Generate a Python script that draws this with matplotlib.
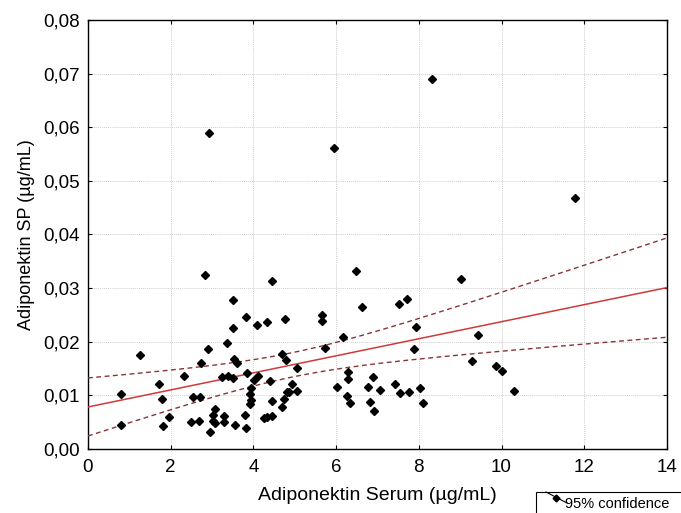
import numpy as np
import matplotlib
matplotlib.use("Agg")
import matplotlib.pyplot as plt
from matplotlib.patches import Rectangle
from matplotlib.lines import Line2D
from matplotlib.ticker import FuncFormatter

plt.rcParams['font.family'] = ['Liberation Sans', 'DejaVu Sans']

# Adiponektin serum (x) vs. seminal plasma (y), µg/mL
serum = [
    8.31, 2.92, 5.96, 11.77, 2.83, 4.44, 6.49, 9.01,
    3.50, 3.82, 3.50, 4.09, 4.34, 4.76, 3.36, 1.26, 2.90, 3.54, 3.61, 2.74,
    4.68, 4.78, 2.33, 3.85, 3.24, 3.38, 3.50, 4.12, 4.01, 4.40, 1.72, 3.94,
    3.92, 3.93, 3.92, 0.81, 1.78, 2.54, 2.71, 4.46, 4.73, 4.82, 4.70, 3.08,
    3.03, 3.30, 3.80, 1.96, 3.02, 3.08, 3.30, 2.48, 2.68, 4.26, 4.34, 4.46,
    0.81, 1.82, 3.56, 3.83, 2.94,
    5.67, 5.67, 6.63, 7.53, 7.71, 7.93, 5.05, 5.72, 6.16, 7.89, 4.93, 4.85,
    5.05, 6.28, 6.28, 6.02, 6.27, 6.33, 6.88, 6.78, 7.07, 6.81, 6.92, 7.42,
    7.54, 7.77, 8.03, 8.10, 9.28, 9.44, 9.86, 10.02, 10.31,
]
sp = [
    0.0690, 0.0589, 0.0562, 0.0468, 0.0325, 0.0314, 0.0331, 0.0317,
    0.0278, 0.0247, 0.0226, 0.0232, 0.0237, 0.0242, 0.0198, 0.0175, 0.0186, 0.0167, 0.0161, 0.0160,
    0.0178, 0.0166, 0.0137, 0.0142, 0.0134, 0.0136, 0.0133, 0.0137, 0.0128, 0.0126, 0.0122, 0.0114,
    0.0102, 0.0092, 0.0084, 0.0103, 0.0093, 0.0096, 0.0097, 0.0089, 0.0093, 0.0107, 0.0078, 0.0075,
    0.0064, 0.0061, 0.0064, 0.0060, 0.0052, 0.0049, 0.0051, 0.0050, 0.0053, 0.0058, 0.0059, 0.0061,
    0.0044, 0.0043, 0.0045, 0.0040, 0.0032,
    0.0249, 0.0239, 0.0265, 0.0271, 0.0280, 0.0228, 0.0151, 0.0189, 0.0209, 0.0186, 0.0122, 0.0107,
    0.0109, 0.0144, 0.0130, 0.0115, 0.0098, 0.0086, 0.0135, 0.0115, 0.0110, 0.0088, 0.0070, 0.0122,
    0.0104, 0.0106, 0.0113, 0.0086, 0.0164, 0.0212, 0.0154, 0.0146, 0.0108,
]

x_ticks = [0, 2, 4, 6, 8, 10, 12, 14]
y_ticks = [0.00, 0.01, 0.02, 0.03, 0.04, 0.05, 0.06, 0.07, 0.08]

x = np.array(serum)
y = np.array(sp)

# least squares fit with 95% confidence band for the mean
n = len(x)
slope, icpt = np.polyfit(x, y, 1)
resid = y - (icpt + slope * x)
s = np.sqrt(np.sum(resid ** 2) / (n - 2))
sxx = np.sum((x - x.mean()) ** 2)
t = 1.985
xs = np.linspace(0, 14, 200)
fit = icpt + slope * xs
half = t * s * np.sqrt(1.0 / n + (xs - x.mean()) ** 2 / sxx)

fig = plt.figure(figsize=(6.81, 5.13), dpi=100)
ax = fig.add_axes([0.1292, 0.1248, 0.8502, 0.8363])

ax.grid(True, color='#cfcfcf', linestyle=(0, (1, 1)), linewidth=0.7)
ax.set_axisbelow(True)

ax.plot(xs, fit, color='#d03a3a', lw=1.1, zorder=3)
ax.plot(xs, fit + half, color='#8a3434', lw=1.0, ls=(0, (3.5, 2.5)), zorder=3)
ax.plot(xs, fit - half, color='#8a3434', lw=1.0, ls=(0, (3.5, 2.5)), zorder=3)

ax.plot(x, y, ls='none', marker='D', ms=4.2, color='black', zorder=4)

ax.set_xlim(0, 14)
ax.set_ylim(0, 0.08)
ax.set_xticks(x_ticks)
ax.set_yticks(y_ticks)
ax.yaxis.set_major_formatter(FuncFormatter(lambda v, p: f"{v:.2f}".replace('.', ',')))
ax.tick_params(direction='in', length=3, width=0.8, top=True, right=True,
               labelsize=13.5, colors='black')
ax.tick_params(axis='x', pad=7)
ax.tick_params(axis='y', pad=6)
for sp_ in ax.spines.values():
    sp_.set_linewidth(1.0)

ax.set_xlabel("Adiponektin Serum (µg/mL)", fontsize=14, labelpad=8)
ax.set_ylabel("Adiponektin SP (µg/mL)", fontsize=13, labelpad=6)

# legend box, partly cut off at the figure edge
W, H = 681.0, 513.0
fig.add_artist(Rectangle((536 / W, -0.05), 0.3, (513 - 492) / H + 0.05,
                         transform=fig.transFigure, facecolor='white',
                         edgecolor='black', lw=0.8))
fig.add_artist(Line2D([546 / W, 567 / W], [(513 - 492) / H, (513 - 503) / H],
                      transform=fig.transFigure, color='black', lw=0.8))
fig.add_artist(Line2D([556 / W], [(513 - 497.5) / H], transform=fig.transFigure,
                      marker='D', ms=3.5, color='black', ls='none'))
fig.text(565 / W, (513 - 504) / H, "95% confidence", fontsize=10.5, va='center', ha='left')

fig.savefig("out.png", dpi=100)
